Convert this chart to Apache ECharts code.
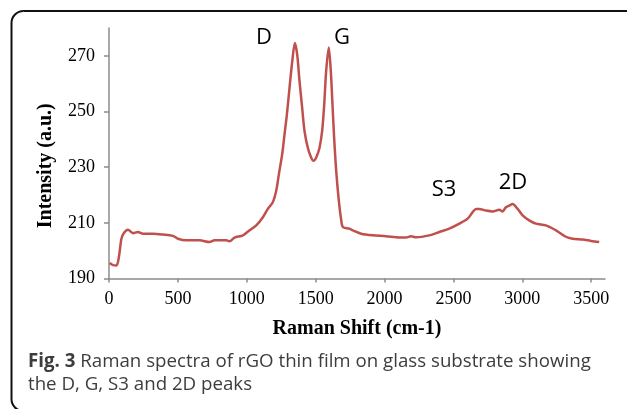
<!DOCTYPE html>
<html>
<head>
<meta charset="utf-8">
<script src="https://cdn.jsdelivr.net/npm/echarts@6/dist/echarts.min.js"></script>
<style>
  html, body { margin: 0; padding: 0; background: #fff; }
  #ramanChart { width: 627px; height: 409px; }
</style>
</head>
<body>
<div id="ramanChart"></div>
<script>
  // Raman shift (cm-1) and intensity (a.u.)
  var ramanShift = [5, 29, 54, 72, 90, 107, 138, 174, 210, 247, 319, 392, 464, 500, 561, 658, 730, 766, 851, 875,
    911, 972, 1020, 1069, 1117, 1153, 1189, 1214, 1233, 1257, 1274, 1291, 1310, 1330, 1349, 1366, 1383, 1402, 1419,
    1443, 1467, 1484, 1504, 1528, 1547, 1562, 1576, 1595, 1610, 1622, 1634, 1649, 1668, 1685, 1697, 1745, 1769, 1830,
    1914, 2011, 2108, 2156, 2192, 2229, 2325, 2398, 2470, 2543, 2603, 2639, 2664, 2688, 2736, 2784, 2833, 2857, 2881,
    2905, 2929, 2966, 3002, 3050, 3099, 3171, 3244, 3316, 3365, 3437, 3498, 3558]
  var intensity = [195.6, 194.8, 194.7, 197.8, 204.3, 206.3, 207.5, 206.3, 206.7, 206.1, 206.1, 205.8, 205.3, 204.3,
    203.7, 203.7, 203.1, 203.7, 203.7, 203.4, 204.7, 205.5, 207.3, 209.1, 212, 215, 217.4, 221.6, 227.5, 234.7, 241.8,
    248.9, 258.4, 268, 274.6, 270.4, 260.8, 251.3, 243, 237, 233.5, 232.3, 233.5, 237, 243, 252.5, 264.4, 273, 264.4,
    252.5, 240.6, 228.7, 218, 211.1, 208.5, 207.9, 207.3, 206.1, 205.5, 205.2, 204.7, 204.7, 205.2, 204.8, 205.5,
    206.7, 207.9, 209.7, 211.5, 213.8, 215, 215, 214.4, 214.1, 214.7, 214.1, 215.6, 216.2, 216.8, 215, 212.7, 210.9,
    209.7, 209.1, 207.3, 205, 204.3, 204, 203.5, 203.1]
  var xTicks = [0, 500, 1000, 1500, 2000, 2500, 3000, 3500]
  var yTicks = [190, 210, 230, 250, 270]
  var peakNames = ['D', 'G', 'S3', '2D']

  var points = []
  for (var i = 0; i < ramanShift.length; i++) {
    points.push([ramanShift[i], intensity[i]])
  }

  var serif = '"Liberation Serif", "DejaVu Serif", serif'
  var sans = '"Open Sans", "Noto Sans", sans-serif'
  // label spots in pixels (centre of text)
  var peakPos = [[264, 38], [342, 38], [444, 190], [513, 183]]
  var peakText = peakNames.map(function (n, k) {
    return {
      type: 'text',
      x: peakPos[k][0],
      y: peakPos[k][1],
      style: { text: n, font: '22px ' + sans, fill: '#000', textAlign: 'center', textVerticalAlign: 'middle' }
    }
  })

  var myChart = echarts.init(document.getElementById('ramanChart'))
  myChart.setOption({
    animation: false,
    backgroundColor: '#fff',
    grid: { left: 109, right: 22, top: 28, bottom: 130.5 },
    xAxis: {
      type: 'value',
      min: 0,
      max: 3600,
      interval: 500,
      name: 'Raman Shift (cm-1)',
      nameLocation: 'middle',
      nameGap: 40,
      nameTextStyle: { fontFamily: serif, fontWeight: 'bold', fontSize: 20, color: '#000' },
      axisLine: { lineStyle: { color: '#8c8c8c', width: 1.5 } },
      axisTick: { show: true, length: 4, customValues: xTicks, lineStyle: { color: '#8c8c8c', width: 1.5 } },
      axisLabel: {
        customValues: xTicks,
        formatter: function (v) { return String(v) },
        fontFamily: serif, fontSize: 18, color: '#000', margin: 12
      },
      splitLine: { show: false }
    },
    yAxis: {
      type: 'value',
      min: 190,
      max: 280,
      interval: 10,
      name: 'Intensity (a.u.)',
      nameLocation: 'middle',
      nameGap: 53,
      nameRotate: 90,
      nameTextStyle: { fontFamily: serif, fontWeight: 'bold', fontSize: 20, color: '#000', padding: [0, 25, 0, 0] },
      axisLine: { show: true, lineStyle: { color: '#8c8c8c', width: 1.5 } },
      axisTick: { show: true, length: 5, customValues: yTicks, lineStyle: { color: '#8c8c8c', width: 1.5 } },
      axisLabel: { customValues: yTicks, fontFamily: serif, fontSize: 18, color: '#000', margin: 14 },
      splitLine: { show: false }
    },
    series: [
      {
        name: 'rGO',
        type: 'line',
        data: points,
        showSymbol: false,
        smooth: 0.3,
        lineStyle: { color: '#c0504d', width: 2.5 },
        itemStyle: { color: '#c0504d' }
      }
    ],
    graphic: [
      {
        type: 'rect',
        shape: { x: 11.5, y: 11, width: 660, height: 400, r: 12 },
        style: { fill: 'none', stroke: '#111', lineWidth: 2 },
        silent: true
      },
      {
        type: 'text',
        x: 28,
        y: 373.5,
        style: {
          text: '{b|Fig. 3} Raman spectra of rGO thin film on glass substrate showing\nthe D, G, S3 and 2D peaks',
          font: '18.7px ' + sans,
          fill: '#3d3d3d',
          lineHeight: 23,
          textVerticalAlign: 'middle',
          rich: {
            b: { font: 'bold 18.7px ' + sans, fill: '#3d3d3d' }
          }
        }
      }
    ].concat(peakText)
  })
</script>
</body>
</html>
